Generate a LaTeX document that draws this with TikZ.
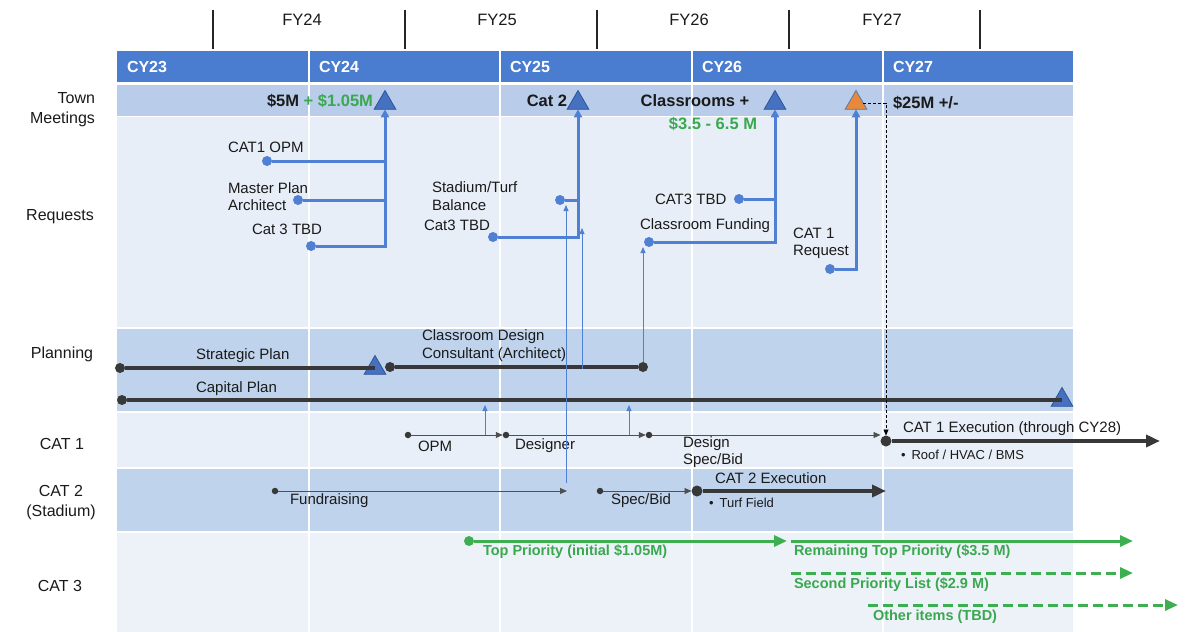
\documentclass[tikz,border=0pt]{standalone}
\usepackage{fontspec}
\setmainfont{Liberation Sans}
\usetikzlibrary{shapes.geometric,arrows.meta,calc}
\newcommand{\fsz}[2]{\fontsize{#1}{#2}\selectfont}
\definecolor{headblue}{HTML}{4A7DCF}
\definecolor{tmrow}{HTML}{B9CDEA}
\definecolor{reqbg}{HTML}{E8EEF8}
\definecolor{planbg}{HTML}{BFD3EC}
\definecolor{catlight}{HTML}{E9EFF8}
\definecolor{cat3bg}{HTML}{EDF2F9}
\definecolor{reqblue}{HTML}{4F80D3}
\definecolor{trifill}{HTML}{4571C0}
\definecolor{tridraw}{HTML}{2E5597}
\definecolor{orangetri}{HTML}{E8893A}
\definecolor{grn}{HTML}{3DAF50}
\definecolor{grntxt}{HTML}{3AA84F}
\definecolor{darkline}{HTML}{383838}
\definecolor{thingray}{HTML}{505050}
\definecolor{txt}{HTML}{1A1A1A}
\tikzset{
  every node/.style={inner sep=0pt, outer sep=0pt},
  lbl/.style={font=\fsz{15}{17.5}, text=txt, align=left},
  smalllbl/.style={font=\fsz{13}{15}, text=txt, align=left},
  rowlbl/.style={font=\fsz{16}{20}, text=txt},
  fylbl/.style={font=\fsz{16.5}{19}, text=txt},
  cylbl/.style={font=\bfseries\fsz{16}{19}, text=white, anchor=west},
  tmlbl/.style={font=\bfseries\fsz{16.5}{19}, text=txt},
  grnlbl/.style={font=\bfseries\fsz{14.5}{17}, text=grntxt, anchor=west},
  tri/.style={regular polygon, regular polygon sides=3, minimum size=25pt, fill=trifill, draw=tridraw, line width=0.8pt},
  otri/.style={tri, fill=orangetri, draw=tridraw!80},
  bdot/.style={circle, fill=reqblue, minimum size=10pt},
  pdot/.style={circle, fill=darkline, minimum size=10pt},
  sdot/.style={circle, fill=darkline, minimum size=6.5pt},
  xdot/.style={circle, fill=darkline, minimum size=11pt},
  gdot/.style={circle, fill=grn, minimum size=10pt},
  reqline/.style={draw=reqblue, line width=3pt},
  reqarrow/.style={-{Triangle[length=8pt,width=8pt]}},
  thinblue/.style={draw=reqblue, line width=0.9pt, -{Triangle[length=6pt,width=5pt]}},
  pline/.style={draw=darkline, line width=3.5pt},
  sline/.style={draw=thingray, line width=0.9pt, -{Triangle[length=7pt,width=6pt]}},
  xline/.style={draw=darkline, line width=4pt, -{Triangle[length=14pt,width=12pt]}},
  gline/.style={draw=grn, line width=3pt, -{Triangle[length=13pt,width=11pt]}},
  gdash/.style={gline, dash pattern=on 10pt off 5pt},
  dashline/.style={draw=black, line width=0.8pt, dash pattern=on 3pt off 2pt, -{Triangle[length=6pt,width=5pt]}}
}
\begin{document}
\begin{tikzpicture}[x=1pt,y=-1pt]
\useasboundingbox (0,0) rectangle (1187,632);
\fill[white] (0,0) rectangle (1187,632);
% bands
\fill[headblue] (117,51) rectangle (1073,82);
\fill[tmrow] (117,85) rectangle (1073,116);
\fill[reqbg] (117,117) rectangle (1073,327);
\fill[planbg] (117,329) rectangle (1073,411);
\fill[catlight] (117,413) rectangle (1073,467);
\fill[planbg] (117,469) rectangle (1073,531);
\fill[cat3bg] (117,533) rectangle (1073,632);
\foreach \x in {309,500,692,883} \draw[white, line width=1.2pt] (\x,51) -- (\x,632);
\foreach \x in {213,405,597,789,980} \draw[black!85, line width=2.5pt] (\x,10) -- (\x,49);
% FY / CY labels
\node[fylbl] (fy24) at (302,20) {FY24};
\node[fylbl] (fy25) at (497,20) {FY25};
\node[fylbl] (fy26) at (689,20) {FY26};
\node[fylbl] (fy27) at (882,20) {FY27};
\node[cylbl] (cy23) at (127,67) {CY23};
\node[cylbl] (cy24) at (319,67) {CY24};
\node[cylbl] (cy25) at (510,67) {CY25};
\node[cylbl] (cy26) at (702,67) {CY26};
\node[cylbl] (cy27) at (893,67) {CY27};
% row labels
\node[rowlbl, align=right, anchor=east] (rTM) at (95,110) {Town\\Meetings};
\node[rowlbl] (rReq) at (60,217) {Requests};
\node[rowlbl] (rPlan) at (62,354) {Planning};
\node[rowlbl] (rC1) at (62,444) {CAT 1};
\node[rowlbl, align=center] (rC2) at (61,503) {CAT 2\\(Stadium)};
\node[rowlbl] (rC3) at (60,586) {CAT 3};
% town meeting labels
\node[tmlbl, anchor=east] (tm1) at (373,101) {\$5M {\color{grntxt}+ \$1.05M}};
\node[tmlbl] (tm2) at (547,101) {Cat 2};
\node[tmlbl] (tm3) at (695,101) {Classrooms +};
\node[tmlbl, text=grntxt] (tm3b) at (713,124) {\$3.5 - 6.5 M};
\node[tmlbl, anchor=west] (tm4) at (893,103) {\$25M +/-};
% triangles
\node[tri] (t1) at (385,103) {};
\node[tri] (t2) at (578,103) {};
\node[tri] (t3) at (775,103) {};
\node[otri] (t4) at (856,103) {};
% request labels
\node[lbl, anchor=west] (l1) at (228,147) {CAT1 OPM};
\node[lbl, anchor=west] (l2) at (228,196.5) {Master Plan\\Architect};
\node[lbl, anchor=west] (l3) at (252,229) {Cat 3 TBD};
\node[lbl, anchor=west] (l4) at (432,196) {Stadium/Turf\\Balance};
\node[lbl, anchor=west] (l5) at (424,225) {Cat3 TBD};
\node[lbl, anchor=west] (l6) at (655,199) {CAT3 TBD};
\node[lbl, anchor=west] (l7) at (640,226) {Classroom Funding};
\node[lbl, anchor=west] (l8) at (793,243.5) {CAT 1\\Request};
% request dots and trunks
\node[bdot] (r1) at (267,161) {};
\node[bdot] (r2) at (298,200) {};
\node[bdot] (r3) at (311,246) {};
\draw[reqline] (r1) -- (r1 -| t1);
\draw[reqline] (r2) -- (r2 -| t1);
\draw[reqline, reqarrow] (r3) -| (t1.south);
\node[bdot] (r4) at (560,200) {};
\node[bdot] (r5) at (493,237) {};
\draw[reqline] (r4) -- (r4 -| t2);
\draw[reqline, reqarrow] (r5) -| (t2.south);
\node[bdot] (r6) at (739,199) {};
\node[bdot] (r7) at (649,242) {};
\draw[reqline] (r6) -- (r6 -| t3);
\draw[reqline, reqarrow] (r7) -| (t3.south);
\node[bdot] (r8) at (830,269) {};
\draw[reqline, reqarrow] (r8) -| (t4.south);
% planning
\node[lbl, anchor=west] (pl1) at (196,356) {Strategic Plan};
\node[lbl, anchor=west] (pl2) at (422,345.5) {Classroom Design\\Consultant (Architect)};
\node[lbl, anchor=west] (pl3) at (196,389) {Capital Plan};
\node[pdot] (sp1) at (120,368) {};
\node[tri] (tp1) at (375,368) {};
\draw[pline] (sp1) -- (tp1.center);
\node[pdot] (cd1) at (390,367) {};
\node[pdot] (cd2) at (643,367) {};
\draw[pline] (cd1) -- (cd2);
\node[pdot] (cap1) at (122,400) {};
\node[tri] (tp2) at (1062,400) {};
\draw[pline] (cap1) -- (tp2.center);
% CAT 1
\node[lbl, anchor=west] (c1a) at (418,446) {OPM};
\node[lbl, anchor=west] (c1b) at (515,446) {Designer};
\node[lbl, anchor=west] (c1c) at (683,452) {Design\\Spec/Bid};
\node[lbl, anchor=west] (c1d) at (903,429) {CAT 1 Execution (through CY28)};
\node[smalllbl, anchor=west] (c1e) at (901,455) {\textbullet\hspace{6pt}Roof / HVAC / BMS};
\node[sdot] (o1) at (408,435) {};
\node[sdot] (o2) at (506,435) {};
\node[sdot] (o3) at (649,435) {};
\node[xdot] (ex1) at (886,441) {};
\coordinate (ex1E) at (1160,441);
\draw[sline] (o1) -- (o2);
\draw[sline] (o2) -- (o3);
\draw[sline] (o3) -- (o3 -| ex1.west);
\draw[xline] (ex1) -- (ex1E);
\draw[dashline] (t4.east) -| (ex1.north);
% CAT 2
\node[lbl, anchor=west] (c2a) at (290,501) {Fundraising};
\node[lbl, anchor=west] (c2b) at (611,501) {Spec/Bid};
\node[lbl, anchor=west] (c2c) at (715,478) {CAT 2 Execution};
\node[smalllbl, anchor=west] (c2d) at (709,503) {\textbullet\hspace{6pt}Turf Field};
\node[sdot] (f1) at (275,491) {};
\coordinate (fE) at (567,491);
\draw[sline] (f1) -- (fE);
\node[sdot] (sb1) at (600,491) {};
\node[xdot] (ex2) at (697,491) {};
\coordinate (ex2E) at (886,491);
\draw[sline] (sb1) -- (ex2);
\draw[xline] (ex2) -- (ex2E);
% thin blue links
\coordinate (a1s) at (566,483);
\draw[thinblue] (a1s) -- (a1s |- r4.south);
\coordinate (a2s) at (582,369);
\coordinate (a2e) at (582,228);
\draw[thinblue] (a2s) -- (a2e);
\draw[thinblue] (cd2.north) -- (cd2.north |- r7.south);
\coordinate (u1) at (485,435);
\draw[thinblue] (u1) -- (u1 |- cap1.south);
\coordinate (u2) at (629,435);
\draw[thinblue] (u2) -- (u2 |- cap1.south);
% CAT 3
\node[gdot] (g1) at (469,541) {};
\coordinate (gE1) at (787,541);
\draw[gline] (g1) -- (gE1);
\coordinate (g2) at (791,541);
\coordinate (gE2) at (1133,541);
\draw[gline] (g2) -- (gE2);
\coordinate (g3) at (791,573);
\coordinate (gE3) at (1133,573);
\draw[gdash] (g3) -- (gE3);
\coordinate (g4) at (868,605);
\coordinate (gE4) at (1178,605);
\draw[gdash] (g4) -- (gE4);
\node[grnlbl] (gl1) at (483,552) {Top Priority (initial \$1.05M)};
\node[grnlbl] (gl2) at (794,552) {Remaining Top Priority (\$3.5 M)};
\node[grnlbl] (gl3) at (794,585) {Second Priority List (\$2.9 M)};
\node[grnlbl] (gl4) at (873,617) {Other items (TBD)};
\end{tikzpicture}
\end{document}
